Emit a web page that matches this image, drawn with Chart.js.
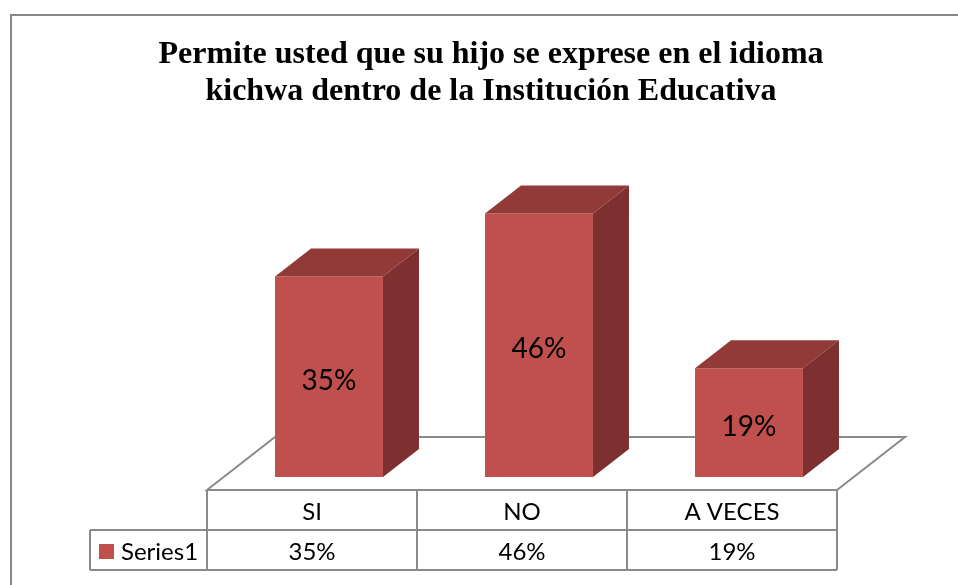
<!DOCTYPE html>
<html><head><meta charset="utf-8">
<script src="https://cdn.jsdelivr.net/npm/chart.js@4/dist/chart.umd.min.js"></script>
<style>html,body{margin:0;padding:0;background:#fff;overflow:hidden}#wrap{width:958px;height:585px;position:relative}</style>
</head><body><div id="wrap"><canvas id="c" width="958" height="585"></canvas></div>
<script>
const titleLines = ['Permite usted que su hijo se exprese en el idioma', 'kichwa dentro de la Institución Educativa'];
const categories = ['SI', 'NO', 'A VECES'];
const seriesName = 'Series1';
const values = [35, 46, 19];
const valueLabels = ['35%', '46%', '19%'];

const FRONT = '#C0504D', TOP = '#923A38', SIDE = '#7D302F', LINE = '#8A8A8A';
const BAR_DX = 36, BAR_DY = -28;      // bar depth
const FLOOR_DX = 68, FLOOR_DY = -53;  // floor depth
const FRONT_OFF_X = -17, FRONT_OFF_Y = 13; // floor front edge relative to bar front
const SANS = 'Lato, "Open Sans", sans-serif';

const deco = {
  id: 'deco',
  beforeDatasetsDraw(chart) {
    const ctx = chart.ctx, ca = chart.chartArea;
    ctx.save();
    // outer border
    ctx.strokeStyle = '#878787'; ctx.lineWidth = 2;
    ctx.strokeRect(11, 15, 1200, 800);
    // title
    ctx.fillStyle = '#000';
    ctx.font = 'bold 32px "Liberation Serif", "Times New Roman", serif';
    ctx.textAlign = 'center'; ctx.textBaseline = 'middle';
    ctx.fillText(titleLines[0], 491, 55);
    ctx.fillText(titleLines[1], 491, 92);
    // floor
    const fl = ca.left + FRONT_OFF_X, fr = ca.right + FRONT_OFF_X, fy = ca.bottom + FRONT_OFF_Y;
    ctx.beginPath();
    ctx.moveTo(fl, fy); ctx.lineTo(fl + FLOOR_DX, fy + FLOOR_DY);
    ctx.lineTo(fr + FLOOR_DX, fy + FLOOR_DY); ctx.lineTo(fr, fy); ctx.closePath();
    ctx.fillStyle = '#fff'; ctx.fill();
    ctx.strokeStyle = LINE; ctx.lineWidth = 2; ctx.stroke();
    // data table
    const xs = chart.scales.x;
    const rowH = 40, r1 = fy, r2 = fy + rowH, r3 = fy + 2 * rowH;
    const legL = 90;
    ctx.beginPath();
    ctx.moveTo(fl, r1); ctx.lineTo(fl, r3);
    ctx.moveTo(legL, r2); ctx.lineTo(fr, r2);
    ctx.moveTo(legL, r3); ctx.lineTo(fr, r3);
    ctx.moveTo(legL, r2); ctx.lineTo(legL, r3);
    ctx.moveTo(fr, r1); ctx.lineTo(fr, r3);
    const cw = (ca.right - ca.left) / categories.length;
    for (let i = 1; i < categories.length; i++) {
      const bx = fl + cw * i;
      ctx.moveTo(bx, r1); ctx.lineTo(bx, r3);
    }
    ctx.stroke();
    ctx.fillStyle = '#000';
    ctx.font = '24px ' + SANS;
    ctx.textAlign = 'center'; ctx.textBaseline = 'middle';
    categories.forEach((c, i) => {
      const cx = xs.getPixelForValue(i) + FRONT_OFF_X;
      ctx.fillText(c, cx, (r1 + r2) / 2 + 2);
      ctx.fillText(valueLabels[i], cx, (r2 + r3) / 2 + 2);
    });
    // legend
    ctx.fillStyle = FRONT;
    ctx.fillRect(99, 544, 15, 15);
    ctx.fillStyle = '#000'; ctx.textAlign = 'left';
    ctx.fillText(seriesName, 121, (r2 + r3) / 2 + 2);
    ctx.restore();
  },
  afterDatasetsDraw(chart) {
    const ctx = chart.ctx;
    const meta = chart.getDatasetMeta(0);
    ctx.save();
    meta.data.forEach((bar, i) => {
      const l = bar.x - bar.width / 2, r = bar.x + bar.width / 2, t = bar.y, b = bar.base;
      ctx.fillStyle = TOP;
      ctx.beginPath();
      ctx.moveTo(l, t); ctx.lineTo(l + BAR_DX, t + BAR_DY); ctx.lineTo(r + BAR_DX, t + BAR_DY); ctx.lineTo(r, t);
      ctx.closePath(); ctx.fill();
      ctx.fillStyle = SIDE;
      ctx.beginPath();
      ctx.moveTo(r, t); ctx.lineTo(r + BAR_DX, t + BAR_DY); ctx.lineTo(r + BAR_DX, b + BAR_DY); ctx.lineTo(r, b);
      ctx.closePath(); ctx.fill();
      ctx.fillStyle = '#000';
      ctx.font = '28px ' + SANS;
      ctx.textAlign = 'center'; ctx.textBaseline = 'middle';
      ctx.fillText(valueLabels[i], bar.x, (t + b) / 2 + 4);
    });
    ctx.restore();
  }
};

new Chart(document.getElementById('c'), {
  type: 'bar',
  data: {
    labels: categories,
    datasets: [{ label: seriesName, data: values, backgroundColor: FRONT, borderWidth: 0,
      categoryPercentage: 1, barPercentage: 0.514 }]
  },
  options: {
    responsive: false, devicePixelRatio: 1, animation: false,
    layout: { padding: { left: 224, right: 104, top: 190.5, bottom: 108 } },
    scales: {
      x: { display: false },
      y: { display: false, min: 0, max: 50 }
    },
    plugins: { legend: { display: false }, tooltip: { enabled: false }, title: { display: false } }
  },
  plugins: [deco]
});
</script></body></html>
